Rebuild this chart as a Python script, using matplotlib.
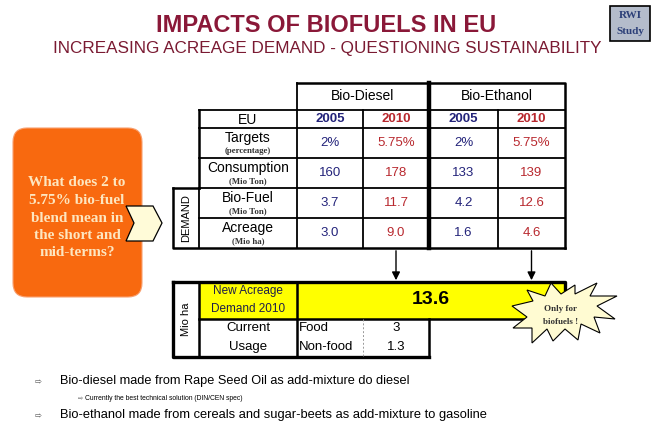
import matplotlib
matplotlib.use("Agg")
import matplotlib.pyplot as plt
from matplotlib.patches import FancyBboxPatch, Polygon, Rectangle

# ---- data ----
fuels = ["Bio-Diesel", "Bio-Ethanol"]
years = ["2005", "2010"]
row_labels = ["Targets", "Consumption", "Bio-Fuel", "Acreage"]
row_units = ["(percentage)", "(Mio Ton)", "(Mio Ton)", "(Mio ha)"]
targets = [2, 5.75, 2, 5.75]          # % blend, diesel 05/10, ethanol 05/10
consumption = [160, 178, 133, 139]    # Mio Ton
biofuel = [3.7, 11.7, 4.2, 12.6]      # Mio Ton
acreage = [3.0, 9.0, 1.6, 4.6]        # Mio ha
new_acreage = 13.6
usage_labels = ["Food", "Non-food"]
usage_values = ["3", "1.3"]
question = ["What does 2 to", "5.75% bio-fuel", "blend mean in",
            "the short and", "mid-terms?"]
bullets = ["Bio-diesel made from Rape Seed Oil as add-mixture do diesel",
           "Bio-ethanol made from cereals and sugar-beets as add-mixture to gasoline"]
sub_bullet = "Currently the best technical solution (DIN/CEN spec)"

sans = "Liberation Sans"
serif = "Liberation Serif"

BLUE = "#23237a"
RED = "#b8282e"
MAROON = "#8a1838"

fig = plt.figure(figsize=(6.53, 4.32), dpi=100)
ax = fig.add_axes([0, 0, 1, 1])
ax.set_xlim(0, 653)
ax.set_ylim(432, 0)
ax.axis("off")

# title
ax.text(326, 26, "IMPACTS OF BIOFUELS IN EU", ha="center", va="center",
        fontsize=17, fontweight="bold", color=MAROON, family=sans)
ax.text(327, 49, "INCREASING ACREAGE DEMAND - QUESTIONING SUSTAINABILITY",
        ha="center", va="center", fontsize=12.3, color="#7a1a32", family=sans)

# RWI badge
ax.add_patch(Rectangle((610, 6), 40, 35, fc="#b4bccb", ec="black", lw=1.2))
ax.text(630, 16, "RWI", ha="center", va="center", fontsize=8, fontweight="bold",
        color="#2c3f78", family=serif)
ax.text(630, 31, "Study", ha="center", va="center", fontsize=8, fontweight="bold",
        color="#2c3f78", family=serif)

# orange question box
ax.add_patch(FancyBboxPatch((13, 128), 129, 169, boxstyle="round,pad=0,rounding_size=14",
                            fc="#f8690f", ec="#f8a070", lw=0.8))
for i, line in enumerate(question):
    ax.text(77, 183 + i * 17.5, line, ha="center", va="center", fontsize=11,
            fontweight="bold", color="#fde6c0", family=serif)

# chevron
ax.add_patch(Polygon([(126, 206), (153, 206), (162, 223), (153, 241), (126, 241), (134, 223)],
                     closed=True, fc="#fffbd8", ec="black", lw=0.9, zorder=3))

# ---- main table ----
xs = [199, 297, 363, 429, 498, 565]
ys = [83, 110, 128, 158, 188, 218, 248]
lw_in = 1.3
lw_out = 1.8

# header cells
for j, fuel in enumerate(fuels):
    x0, x1 = xs[1 + 2 * j], xs[3 + 2 * j]
    ax.text((x0 + x1) / 2, (ys[0] + ys[1]) / 2, fuel, ha="center", va="center",
            fontsize=10, family=sans, color="black")
    for k, yr in enumerate(years):
        c0, c1 = xs[1 + 2 * j + k], xs[2 + 2 * j + k]
        ax.text((c0 + c1) / 2, (ys[1] + ys[2]) / 2 + 0.5, yr, ha="center", va="center",
                fontsize=9.5, fontweight="bold", family=sans, color=BLUE if k == 0 else RED)
ax.text((xs[0] + xs[1]) / 2, (ys[1] + ys[2]) / 2 + 0.5, "EU", ha="center", va="center",
        fontsize=10, family=sans)

rows = [[f"{v:g}%" for v in targets],
        [f"{v:g}" for v in consumption],
        [f"{v:.1f}" for v in biofuel],
        [f"{v:.1f}" for v in acreage]]
for r, (lab, unit, vals) in enumerate(zip(row_labels, row_units, rows)):
    top, bot = ys[2 + r], ys[3 + r]
    ax.text((xs[0] + xs[1]) / 2, top + 10, lab, ha="center", va="center",
            fontsize=10, family=sans)
    ax.text((xs[0] + xs[1]) / 2, top + 23, unit, ha="center", va="center",
            fontsize=6.3, fontweight="bold", family=serif, color="#333333")
    for c, v in enumerate(vals):
        ax.text((xs[1 + c] + xs[2 + c]) / 2, (top + bot) / 2, v, ha="center", va="center",
                fontsize=9.5, family=sans, color=BLUE if c % 2 == 0 else RED)

# grid lines
for y in ys[2:-1]:
    ax.plot([xs[0], xs[-1]], [y, y], color="black", lw=lw_in)
ax.plot([xs[0], xs[-1]], [ys[1], ys[1]], color="black", lw=lw_in)
for x in [xs[2], xs[4]]:
    ax.plot([x, x], [ys[1], ys[-1]], color="black", lw=lw_in)
ax.plot([xs[1], xs[1]], [ys[0], ys[-1]], color="black", lw=lw_in)
ax.plot([xs[3], xs[3]], [ys[0], ys[-1]], color="black", lw=3.2)
# outer
ax.plot([xs[1], xs[-1], xs[-1]], [ys[0], ys[0], ys[-1]], color="black", lw=lw_out)
ax.plot([xs[0], xs[0]], [ys[1], ys[4]], color="black", lw=lw_out)
ax.plot([173, 199], [ys[4], ys[4]], color="black", lw=lw_out)
ax.plot([173, 173, xs[-1]], [ys[4], ys[-1], ys[-1]], color="black", lw=lw_out)
ax.plot([xs[0], xs[0]], [ys[4], ys[-1]], color="black", lw=lw_in)
ax.text(186, (ys[4] + ys[-1]) / 2, "DEMAND", rotation=90, ha="center", va="center",
        fontsize=8, family=sans)

# ---- arrows to new acreage ----
by0, by1, by2 = 282, 319, 357
for j in range(2):
    xc = (xs[2 + 2 * j] + xs[3 + 2 * j]) / 2
    ax.annotate("", xy=(xc, by0 + 1), xytext=(xc, ys[-1]),
                arrowprops=dict(arrowstyle="-|>", color="black", lw=1, mutation_scale=12))

# ---- bottom table ----
ax.add_patch(Rectangle((xs[0], by0), xs[-1] - xs[0], by1 - by0, fc="#ffff00", ec="none"))
ax.plot([173, xs[-1], xs[-1]], [by0, by0, by1], color="black", lw=lw_out + 0.6)
ax.plot([xs[0], xs[-1]], [by1, by1], color="black", lw=lw_out)
ax.plot([173, 173, xs[3]], [by0, by2, by2], color="black", lw=lw_out + 0.6)
ax.plot([xs[3], xs[3]], [by1, by2], color="black", lw=lw_out)
ax.plot([xs[0], xs[0]], [by0, by2], color="black", lw=lw_out)
ax.plot([xs[1], xs[1]], [by0, by2], color="black", lw=lw_out)
ax.plot([363, 363], [by1, by2], color="#999999", lw=0.7, ls=(0, (2, 2)))
ax.text(186, (by0 + by2) / 2, "Mio ha", rotation=90, ha="center", va="center",
        fontsize=8, family=sans)
ax.text(248, 291, "New Acreage", ha="center", va="center", fontsize=8.5,
        family=sans, color="#1e1e4a")
ax.text(248, 309, "Demand 2010", ha="center", va="center", fontsize=8.5,
        family=sans, color="#1e1e4a")
ax.text(431, 300, f"{new_acreage:.1f}", ha="center", va="center", fontsize=14,
        fontweight="bold", family=sans)
ax.text(248, 328, "Current", ha="center", va="center", fontsize=9.5, family=sans)
ax.text(248, 347, "Usage", ha="center", va="center", fontsize=9.5, family=sans)
for i, (lab, val) in enumerate(zip(usage_labels, usage_values)):
    ax.text(xs[1] + 2, 328 + i * 19, lab, ha="left", va="center", fontsize=9.5, family=sans)
    ax.text(396, 328 + i * 19, val, ha="center", va="center", fontsize=9.5, family=sans)

# starburst
star = [(512, 306), (533, 301), (527, 290), (545, 296), (551, 283), (561, 294),
        (575, 285), (575, 294), (597, 283), (590, 296), (617, 296), (597, 306),
        (615, 319), (594, 317), (600, 333), (581, 324), (578, 340), (565, 329),
        (553, 341), (547, 329), (532, 343), (532, 328), (513, 328), (527, 317)]
ax.add_patch(Polygon(star, closed=True, fc="#fffbd2", ec="black", lw=0.8, zorder=4))
ax.text(561, 309, "Only for", ha="center", va="center", fontsize=6.5,
        fontweight="bold", family=serif, color="#333333", zorder=5)
ax.text(561, 322, "biofuels !", ha="center", va="center", fontsize=6.5,
        fontweight="bold", family=serif, color="#333333", zorder=5)

# bullets
ax.text(38, 382, "\u21e8", ha="center", va="center", fontsize=6, color="#555555",
        family="DejaVu Sans")
ax.text(60, 381, bullets[0], ha="left", va="center", fontsize=9.2, family=sans)
ax.text(80, 399, "\u21e8", ha="center", va="center", fontsize=4.5, color="#555555",
        family="DejaVu Sans")
ax.text(85, 399, sub_bullet, ha="left", va="center", fontsize=4.9, family=sans)
ax.text(38, 416, "\u21e8", ha="center", va="center", fontsize=6, color="#555555",
        family="DejaVu Sans")
ax.text(60, 415, bullets[1], ha="left", va="center", fontsize=9.3, family=sans)

fig.savefig("out.png", dpi=100, facecolor="white")
